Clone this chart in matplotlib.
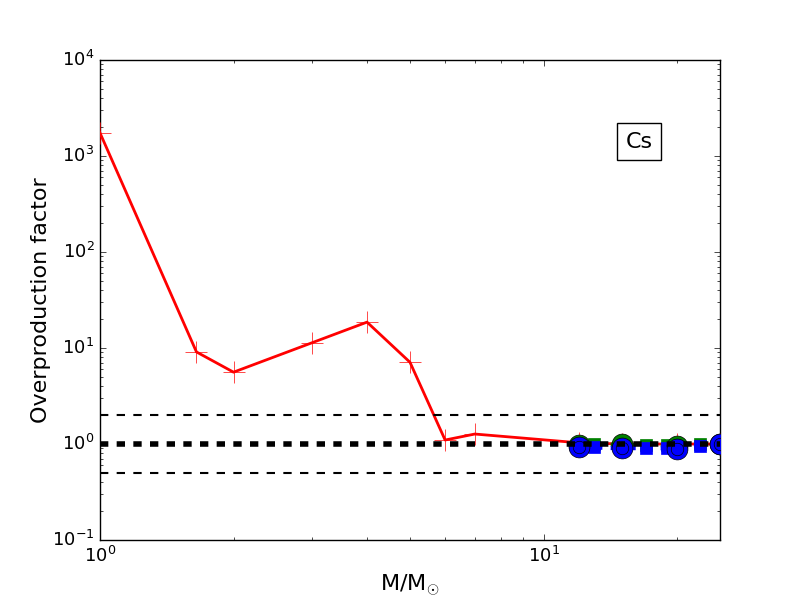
import matplotlib
matplotlib.use('Agg')
import matplotlib.pyplot as plt

# low/intermediate mass yields (red crosses)
m_low = [1.0, 1.65, 2.0, 3.0, 4.0, 5.0, 6.0, 7.0, 12.0, 15.0, 20.0, 25.0]
of_low = [1740, 9.1, 5.6, 11.3, 18.6, 7.1, 1.1, 1.27, 1.03, 1.0, 1.0, 1.0]

# massive star models (circles)
m_massive = [12.0, 15.0, 20.0, 25.0]
of_green_c = [0.98, 1.0, 0.96, 1.0]
of_blue_c = [0.92, 0.90, 0.89, 0.99]

# extra grid (squares, dashed)
m_grid = [13.0, 15.0, 17.0, 19.0, 22.5]
of_green_s = [0.99, 0.98, 0.97, 0.97, 1.0]
of_blue_s = [0.92, 0.90, 0.91, 0.90, 0.95]

plt.style.use('classic')
plt.rcParams['figure.facecolor'] = 'white'

fig, ax = plt.subplots(figsize=(8, 6), dpi=100)

ax.plot(m_low, of_low, color='red', lw=2, marker='+', markersize=16,
        markeredgecolor='red', zorder=3)
ax.plot(m_grid, of_green_s, color='green', ls='--', lw=3, marker='s',
        markersize=9, markerfacecolor='green', markeredgecolor='green', zorder=4)
ax.plot(m_grid, of_blue_s, color='blue', ls='--', lw=3, marker='s',
        markersize=9, markerfacecolor='blue', markeredgecolor='blue', zorder=5)
ax.plot(m_massive, of_green_c, ls='none', marker='o', markersize=15,
        markerfacecolor='green', markeredgecolor='k', zorder=6)
ax.plot(m_massive, of_blue_c, ls='none', marker='o', markersize=15,
        markerfacecolor='blue', markeredgecolor='k', zorder=7)
ax.plot(m_massive, of_blue_c, ls='none', marker='o', markersize=9,
        markerfacecolor='blue', markeredgecolor='k', zorder=8)

ax.axhline(2.0, color='k', ls='--', lw=1.5, zorder=9)
ax.axhline(1.0, color='k', ls='--', lw=4, zorder=9)
ax.axhline(0.5, color='k', ls='--', lw=1.5, zorder=9)

ax.set_xscale('log')
ax.set_yscale('log')
ax.set_xlim(1, 25)
ax.set_ylim(0.1, 1e4)
ax.set_xlabel(r'M/M$_{\odot}$', fontsize=16)
ax.set_ylabel('Overproduction factor', fontsize=16)
ax.yaxis.set_label_coords(-0.079, 0.5)
ax.tick_params(labelsize=13)

ax.text(0.87, 0.83, 'Cs', transform=ax.transAxes, fontsize=16,
        ha='center', va='center',
        bbox=dict(facecolor='white', edgecolor='k', pad=6))

fig.subplots_adjust(left=0.125, right=0.9, bottom=0.1, top=0.9)
fig.savefig('out.png', dpi=100, facecolor='white')
